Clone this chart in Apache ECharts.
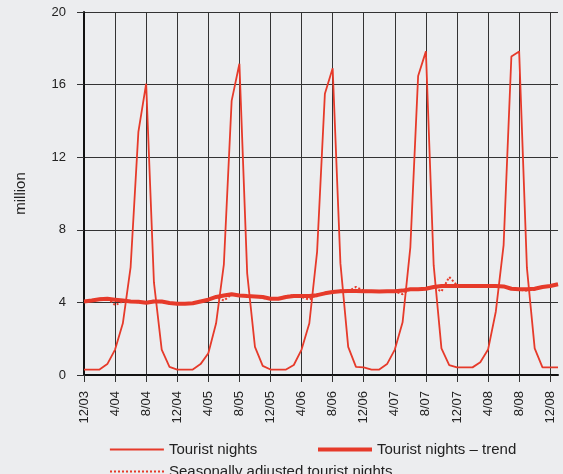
<!DOCTYPE html>
<html>
<head>
<meta charset="utf-8">
<script src="https://cdn.jsdelivr.net/npm/echarts@6/dist/echarts.min.js"></script>
<style>
html,body{margin:0;padding:0;background:#ecedef;}
#c{width:563px;height:474px;}
</style>
</head>
<body>
<div id="c"></div>
<script>
const months = ["12/03","1/04","2/04","3/04","4/04","5/04","6/04","7/04","8/04","9/04","10/04","11/04",
"12/04","1/05","2/05","3/05","4/05","5/05","6/05","7/05","8/05","9/05","10/05","11/05",
"12/05","1/06","2/06","3/06","4/06","5/06","6/06","7/06","8/06","9/06","10/06","11/06",
"12/06","1/07","2/07","3/07","4/07","5/07","6/07","7/07","8/07","9/07","10/07","11/07",
"12/07","1/08","2/08","3/08","4/08","5/08","6/08","7/08","8/08","9/08","10/08","11/08",
"12/08","1/09"];

const touristNights = [0.3,0.3,0.3,0.6,1.4,2.85,5.95,13.4,16.05,5.1,1.4,0.45,
0.3,0.3,0.3,0.6,1.2,2.85,6.1,15.1,17.15,5.6,1.55,0.5,
0.3,0.3,0.3,0.55,1.4,2.85,6.8,15.5,16.9,6.15,1.55,0.45,
0.42,0.3,0.3,0.6,1.4,2.9,7.05,16.47,17.83,6.05,1.47,0.55,
0.42,0.42,0.42,0.7,1.4,3.5,7.15,17.55,17.83,5.9,1.47,0.42,
0.42,0.42];

const trend = [4.05,4.1,4.17,4.2,4.15,4.1,4.05,4.03,3.98,4.05,4.05,3.97,
3.93,3.92,3.95,4.05,4.15,4.3,4.38,4.45,4.38,4.35,4.33,4.3,
4.2,4.2,4.3,4.35,4.35,4.35,4.4,4.5,4.57,4.62,4.63,4.63,
4.62,4.62,4.6,4.62,4.62,4.65,4.72,4.73,4.75,4.85,4.9,4.9,
4.9,4.9,4.9,4.9,4.9,4.9,4.88,4.75,4.72,4.72,4.75,4.85,
4.9,5.0];

const seasonallyAdjusted = [4.05,4.1,4.2,4.25,3.85,4.05,4.05,4.0,4.0,4.1,4.0,3.95,
3.9,3.95,3.95,4.05,4.15,4.3,4.1,4.45,4.4,4.35,4.35,4.25,
4.2,4.2,4.35,4.4,4.3,4.15,4.45,4.5,4.55,4.65,4.6,4.85,
4.65,4.6,4.62,4.6,4.6,4.45,4.75,4.7,4.8,4.85,4.6,5.4,
4.95,4.9,4.85,4.9,4.95,4.9,4.85,4.75,4.7,4.65,4.7,4.85,
4.9,5.0];

const yTicks = {min:0, max:20, interval:4};
const RED = '#e63a2a';
const FONT = "'Liberation Sans', Arial, sans-serif";

function legendAt(name, left, top, lineWidth, lineType) {
  return {data:[name], left:left, top:top, itemWidth:54, itemHeight:14, itemGap:0,
    itemStyle:{opacity:0},
    lineStyle:{width:lineWidth, type:lineType, color:RED},
    textStyle:{fontSize:15, color:'#222', fontFamily:FONT}};
}

const chart = echarts.init(document.getElementById('c'), null, {renderer:'canvas'});
chart.setOption({
  backgroundColor:'#ecedef',
  animation:false,
  textStyle:{fontFamily:FONT},
  grid:{left:84, right:5, top:12, bottom:99, containLabel:false},
  xAxis:{
    type:'category', data:months, boundaryGap:false,
    axisLine:{show:true, lineStyle:{color:'#111', width:2}},
    axisTick:{show:true, interval:3, length:7, lineStyle:{color:'#333', width:1}},
    axisLabel:{interval:3, rotate:90, margin:16, fontSize:13, color:'#222', fontFamily:FONT},
    splitLine:{show:true, interval:3, lineStyle:{color:'#333', width:1}}
  },
  yAxis:{
    type:'value', min:yTicks.min, max:yTicks.max, interval:yTicks.interval,
    name:'million', nameLocation:'middle', nameGap:56, nameRotate:90,
    nameTextStyle:{fontSize:15, color:'#222', fontFamily:FONT},
    axisLine:{show:true, lineStyle:{color:'#111', width:2}},
    axisTick:{show:true, length:7, lineStyle:{color:'#333', width:1}},
    axisLabel:{margin:18, fontSize:13, color:'#222', fontFamily:FONT},
    splitLine:{show:true, lineStyle:{color:'#333', width:1}}
  },
  legend:[
    legendAt('Tourist nights', 104, 437, 1.8, 'solid'),
    legendAt('Tourist nights – trend', 311, 437, 4, 'solid'),
    legendAt('Seasonally adjusted tourist nights', 104, 459, 2, [2,2])
  ],
  series:[
    {name:'Tourist nights', type:'line', data:touristNights, symbol:'none', z:4,
     lineStyle:{color:RED, width:1.8}, itemStyle:{color:RED}},
    {name:'Seasonally adjusted tourist nights', type:'line', data:seasonallyAdjusted, symbol:'none', z:2,
     lineStyle:{color:RED, width:2, type:[2,2]}, itemStyle:{color:RED}},
    {name:'Tourist nights – trend', type:'line', data:trend, symbol:'none', z:3,
     lineStyle:{color:RED, width:4}, itemStyle:{color:RED}}
  ]
});
</script>
</body>
</html>
